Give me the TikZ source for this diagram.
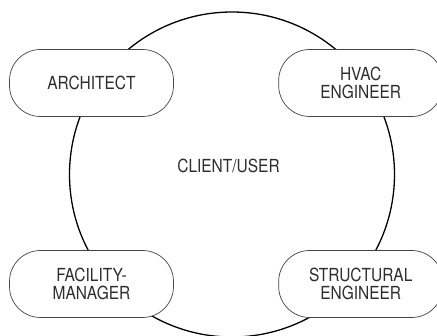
\documentclass[tikz,border=0pt]{standalone}
\usepackage{fontspec}
\newfontfamily\lblfont{TeX Gyre Heros}[FakeStretch=0.86]
\definecolor{txt}{HTML}{2E2E2E}
\definecolor{boxline}{HTML}{444444}
\tikzset{
  lbl/.style={font=\lblfont\fontsize{18pt}{18.8pt}\selectfont, text=txt},
  rolebox/.style={lbl, draw=boxline, line width=0.7pt, fill=white, rounded corners=31pt,
    minimum width=164pt, minimum height=67pt, inner sep=0pt, align=center},
  hub/.style={draw=black, line width=1.3pt, circle, minimum size=325pt, inner sep=0pt}
}
\begin{document}
\begin{tikzpicture}[x=1pt,y=-1pt]
\useasboundingbox (0,0) rectangle (437,336);
\node[hub] (client) at (232,174.5) {};
\node[lbl] (clientlbl) at (228.5,166) {CLIENT/USER};
\node[rolebox] (arch) at (91.5,83) {ARCHITECT};
\node[rolebox] (hvac) at (360.7,83) {HVAC\\ENGINEER};
\node[rolebox] (fm) at (91.5,284) {FACILITY-\\MANAGER};
\node[rolebox] (struct) at (360.7,284) {STRUCTURAL\\ENGINEER};
\end{tikzpicture}
\end{document}
